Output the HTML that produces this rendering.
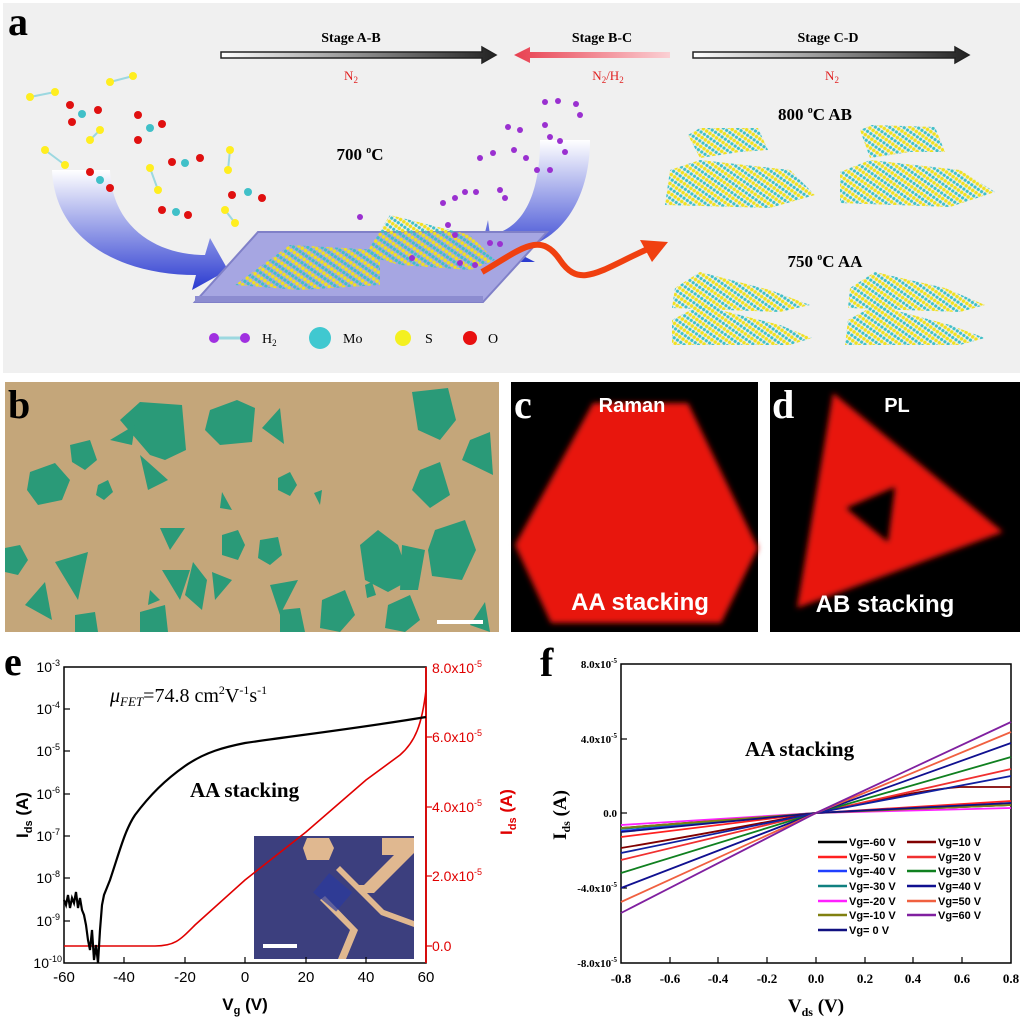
<!DOCTYPE html>
<html><head><meta charset="utf-8"><style>
html,body{margin:0;padding:0;background:#fff;width:1024px;height:1024px;overflow:hidden}
svg{display:block}
.sf{font-family:"Liberation Serif",serif}
.ss{font-family:"Liberation Sans",sans-serif}
</style></head><body>
<svg width="1024" height="1024" viewBox="0 0 1024 1024" xmlns="http://www.w3.org/2000/svg">
<defs>
<linearGradient id="gar" x1="0" x2="1"><stop offset="0" stop-color="#fff"/><stop offset="1" stop-color="#222"/></linearGradient>
<linearGradient id="gpk" x1="0" x2="1"><stop offset="0" stop-color="#e84050"/><stop offset="1" stop-color="#fbd0d4"/></linearGradient>
<linearGradient id="gbl" x1="0" y1="0" x2="0" y2="1"><stop offset="0" stop-color="#fff"/><stop offset="1" stop-color="#2a3ad0"/></linearGradient>
<pattern id="mos" width="8" height="8" patternUnits="userSpaceOnUse" patternTransform="rotate(-55)">
<rect width="8" height="8" fill="none"/><circle cx="2" cy="2" r="1.8" fill="#f0e020"/><circle cx="6" cy="2" r="1.6" fill="#40c0c8"/><circle cx="2" cy="6" r="1.8" fill="#f0e020"/><circle cx="6" cy="6" r="1.6" fill="#40c0c8"/>
</pattern>
<filter id="glow" x="-10%" y="-10%" width="120%" height="120%"><feGaussianBlur stdDeviation="3"/></filter>
</defs>

<!-- Panel a -->
<rect x="3" y="3" width="1017" height="370" fill="#f0f0f0"/>
<text x="8" y="35" class="sf" font-size="40" font-weight="bold">a</text>
<text x="351" y="42" class="sf" font-size="14" font-weight="bold" text-anchor="middle">Stage A-B</text>
<text x="602" y="42" class="sf" font-size="14" font-weight="bold" text-anchor="middle">Stage B-C</text>
<text x="828" y="42" class="sf" font-size="14" font-weight="bold" text-anchor="middle">Stage C-D</text>
<path d="M221 52 H482 V47 L496 55 L482 63 V58 H221 Z" fill="url(#gar)" stroke="#222" stroke-width="1.5"/>
<path d="M670 52 H530 V47 L514 55 L530 63 V58 H670 Z" fill="url(#gpk)"/>
<path d="M693 52 H955 V47 L969 55 L955 63 V58 H693 Z" fill="url(#gar)" stroke="#222" stroke-width="1.5"/>
<text x="351" y="80" class="sf" font-size="13" fill="#e02020" text-anchor="middle">N<tspan font-size="9" dy="3">2</tspan></text>
<text x="608" y="80" class="sf" font-size="13" fill="#e02020" text-anchor="middle">N<tspan font-size="9" dy="3">2</tspan><tspan dy="-3">/H</tspan><tspan font-size="9" dy="3">2</tspan></text>
<text x="832" y="80" class="sf" font-size="13" fill="#e02020" text-anchor="middle">N<tspan font-size="9" dy="3">2</tspan></text>
<text x="360" y="160" class="sf" font-size="17" font-weight="bold" text-anchor="middle">700 <tspan font-size="10" dy="-7">o</tspan><tspan dy="7">C</tspan></text>
<text x="815" y="120" class="sf" font-size="17" font-weight="bold" text-anchor="middle">800 <tspan font-size="10" dy="-7">o</tspan><tspan dy="7">C AB</tspan></text>
<text x="825" y="267" class="sf" font-size="17" font-weight="bold" text-anchor="middle">750 <tspan font-size="10" dy="-7">o</tspan><tspan dy="7">C AA</tspan></text>
<path d="M52 170 H110 C112 230 160 255 205 255 L210 238 L228 270 L192 290 L196 275 C120 275 55 240 52 170 Z" fill="url(#gbl)"/>
<path d="M590 140 H540 C540 200 520 230 490 235 L488 220 L478 262 L535 262 L512 250 C560 245 590 200 590 140 Z" fill="url(#gbl)"/>
<polygon points="258,232 547,232 483,302 195,302" fill="#a6a6e2" stroke="#8080c8" stroke-width="2"/>
<polygon points="195,302 483,302 483,296 195,296" fill="#8c8cd0"/>
<polygon points="235,285 290,245 380,250 380,285 300,290" fill="url(#mos)"/>
<polygon points="365,255 390,215 470,235 495,260 470,270 400,265" fill="url(#mos)"/>
<path d="M482 272 C520 250 540 230 560 260 C580 290 600 270 650 248" fill="none" stroke="#f04010" stroke-width="6"/>
<polygon points="640,240 668,242 652,262" fill="#f04010"/>
<g stroke="#9cd8e0" stroke-width="2">
<line x1="30" y1="97" x2="55" y2="92"/><line x1="110" y1="82" x2="133" y2="76"/><line x1="100" y1="130" x2="90" y2="140"/><line x1="45" y1="150" x2="65" y2="165"/><line x1="150" y1="168" x2="158" y2="190"/><line x1="230" y1="150" x2="228" y2="170"/><line x1="225" y1="210" x2="235" y2="223"/>
</g>
<g fill="#ffee20"><circle cx="30" cy="97" r="4"/><circle cx="55" cy="92" r="4"/><circle cx="110" cy="82" r="4"/><circle cx="133" cy="76" r="4"/><circle cx="100" cy="130" r="4"/><circle cx="90" cy="140" r="4"/><circle cx="45" cy="150" r="4"/><circle cx="65" cy="165" r="4"/><circle cx="150" cy="168" r="4"/><circle cx="158" cy="190" r="4"/><circle cx="230" cy="150" r="4"/><circle cx="228" cy="170" r="4"/><circle cx="225" cy="210" r="4"/><circle cx="235" cy="223" r="4"/></g>
<g fill="#e01010"><circle cx="70" cy="105" r="4"/><circle cx="98" cy="110" r="4"/><circle cx="72" cy="122" r="4"/><circle cx="138" cy="115" r="4"/><circle cx="162" cy="124" r="4"/><circle cx="138" cy="140" r="4"/><circle cx="90" cy="172" r="4"/><circle cx="110" cy="188" r="4"/><circle cx="172" cy="162" r="4"/><circle cx="200" cy="158" r="4"/><circle cx="232" cy="195" r="4"/><circle cx="262" cy="198" r="4"/><circle cx="162" cy="210" r="4"/><circle cx="188" cy="215" r="4"/></g>
<g fill="#40c0c8"><circle cx="82" cy="114" r="4"/><circle cx="150" cy="128" r="4"/><circle cx="100" cy="180" r="4"/><circle cx="185" cy="163" r="4"/><circle cx="248" cy="192" r="4"/><circle cx="176" cy="212" r="4"/></g>
<g fill="#9a30d0"><circle cx="545" cy="102" r="3"/><circle cx="558" cy="101" r="3"/><circle cx="576" cy="104" r="3"/><circle cx="580" cy="115" r="3"/><circle cx="508" cy="127" r="3"/><circle cx="520" cy="130" r="3"/><circle cx="545" cy="125" r="3"/><circle cx="550" cy="137" r="3"/><circle cx="560" cy="141" r="3"/><circle cx="565" cy="152" r="3"/><circle cx="480" cy="158" r="3"/><circle cx="493" cy="153" r="3"/><circle cx="514" cy="150" r="3"/><circle cx="526" cy="158" r="3"/><circle cx="537" cy="170" r="3"/><circle cx="550" cy="170" r="3"/><circle cx="443" cy="203" r="3"/><circle cx="455" cy="198" r="3"/><circle cx="465" cy="192" r="3"/><circle cx="476" cy="192" r="3"/><circle cx="500" cy="190" r="3"/><circle cx="505" cy="198" r="3"/><circle cx="360" cy="217" r="3"/><circle cx="448" cy="225" r="3"/><circle cx="455" cy="235" r="3"/><circle cx="490" cy="243" r="3"/><circle cx="500" cy="244" r="3"/><circle cx="412" cy="258" r="3"/><circle cx="460" cy="263" r="3"/><circle cx="475" cy="265" r="3"/></g>
<polygon points="688,135 700,128 758,128 768,150 740,152 700,158" fill="url(#mos)"/>
<polygon points="670,170 700,160 790,170 815,195 770,208 665,205" fill="url(#mos)"/>
<polygon points="860,130 872,125 935,127 945,152 910,152 870,158" fill="url(#mos)"/>
<polygon points="840,172 870,160 960,170 995,192 950,207 840,203" fill="url(#mos)"/>
<polygon points="675,288 700,272 770,290 810,305 780,312 672,308" fill="url(#mos)"/>
<polygon points="672,320 700,305 780,325 812,338 790,345 672,345" fill="url(#mos)"/>
<polygon points="850,288 875,272 945,288 985,305 960,312 848,308" fill="url(#mos)"/>
<polygon points="848,320 875,305 950,325 985,338 960,345 845,345" fill="url(#mos)"/>
<line x1="214" y1="338" x2="245" y2="338" stroke="#9cd8e0" stroke-width="3"/>
<circle cx="214" cy="338" r="5" fill="#a030e0"/><circle cx="245" cy="338" r="5" fill="#a030e0"/>
<text x="262" y="343" class="sf" font-size="14">H<tspan font-size="9" dy="3">2</tspan></text>
<circle cx="320" cy="338" r="11" fill="#40c8d0"/><text x="343" y="343" class="sf" font-size="14">Mo</text>
<circle cx="403" cy="338" r="8" fill="#f4f020"/><text x="425" y="343" class="sf" font-size="14">S</text>
<circle cx="470" cy="338" r="7" fill="#e81010"/><text x="488" y="343" class="sf" font-size="14">O</text>

<!-- Panel b -->
<rect x="5" y="382" width="494" height="250" fill="#c4a67a"/>
<g fill="#2a9a78">
<polygon points="120,420 140,402 182,405 186,450 165,460 150,455"/>
<polygon points="210,410 237,400 255,408 252,442 220,445 205,430"/>
<polygon points="110,440 135,425 132,445"/>
<polygon points="70,445 90,440 97,460 85,470 72,462"/>
<polygon points="30,472 55,463 70,480 62,500 38,505 27,490"/>
<polygon points="98,485 108,480 113,492 104,500 96,495"/>
<polygon points="262,428 280,408 284,444"/>
<polygon points="412,392 448,388 456,420 440,440 418,430"/>
<polygon points="470,440 490,432 493,475 462,460"/>
<polygon points="420,470 440,462 450,495 430,508 412,490"/>
<polygon points="435,530 465,520 476,550 462,580 432,576 428,550"/>
<polygon points="278,478 290,472 297,485 290,496 278,490"/>
<polygon points="140,455 168,480 148,490"/>
<polygon points="222,492 232,510 220,508"/>
<polygon points="314,493 322,490 320,505"/>
<polygon points="160,528 185,528 170,550"/>
<polygon points="222,535 238,530 245,545 238,560 222,555"/>
<polygon points="260,540 278,537 282,555 270,565 258,558"/>
<polygon points="55,562 88,552 78,600"/>
<polygon points="25,605 45,582 52,620"/>
<polygon points="5,548 20,545 28,560 18,575 5,572"/>
<polygon points="162,570 190,570 180,600"/>
<polygon points="193,562 207,580 202,610 185,595"/>
<polygon points="212,572 232,580 215,600"/>
<polygon points="360,545 378,530 398,545 410,580 388,592 365,580"/>
<polygon points="402,545 425,550 418,590 400,590"/>
<polygon points="270,585 298,580 280,615"/>
<polygon points="322,600 345,590 355,615 340,632 320,628"/>
<polygon points="388,605 410,595 420,620 405,632 385,628"/>
<polygon points="280,610 300,608 305,632 280,632"/>
<polygon points="140,612 165,605 168,632 140,632"/>
<polygon points="75,615 95,612 98,632 75,632"/>
<polygon points="365,585 372,582 376,595 367,598"/>
<polygon points="150,590 160,600 148,605"/>
<polygon points="470,625 485,602 490,632"/>
</g>
<rect x="437" y="620" width="46" height="4" fill="#fff"/>
<text x="8" y="418" class="sf" font-size="40" font-weight="bold">b</text>

<!-- Panel c -->
<rect x="511" y="382" width="247" height="250" fill="#000"/>
<polygon points="593,403 688,403 758,548 721,623 551,623 515,545" fill="#e8140c" filter="url(#glow)"/>
<text x="514" y="418" class="sf" font-size="40" font-weight="bold" fill="#fff">c</text>
<text x="632" y="412" class="ss" font-size="20" font-weight="bold" fill="#fff" text-anchor="middle">Raman</text>
<text x="640" y="610" class="ss" font-size="24" font-weight="bold" fill="#fff" text-anchor="middle">AA stacking</text>

<!-- Panel d -->
<rect x="770" y="382" width="250" height="250" fill="#000"/>
<path d="M833,393 L1003,532 L797,608 Z M895,487 L846,508 L888,542 Z" fill="#e8140c" fill-rule="evenodd" filter="url(#glow)"/>
<text x="772" y="418" class="sf" font-size="40" font-weight="bold" fill="#fff">d</text>
<text x="897" y="412" class="ss" font-size="20" font-weight="bold" fill="#fff" text-anchor="middle">PL</text>
<text x="885" y="612" class="ss" font-size="24" font-weight="bold" fill="#fff" text-anchor="middle">AB stacking</text>

<!-- Panel e -->
<text x="4" y="675" class="sf" font-size="40" font-weight="bold">e</text>
<g class="ss" font-size="14" text-anchor="end">
<text x="60" y="672">10<tspan font-size="9" dy="-6">-3</tspan></text>
<text x="60" y="714">10<tspan font-size="9" dy="-6">-4</tspan></text>
<text x="60" y="756">10<tspan font-size="9" dy="-6">-5</tspan></text>
<text x="60" y="799">10<tspan font-size="9" dy="-6">-6</tspan></text>
<text x="60" y="841">10<tspan font-size="9" dy="-6">-7</tspan></text>
<text x="60" y="883">10<tspan font-size="9" dy="-6">-8</tspan></text>
<text x="60" y="926">10<tspan font-size="9" dy="-6">-9</tspan></text>
<text x="62" y="968">10<tspan font-size="9" dy="-6">-10</tspan></text>
</g>
<g fill="#e00000" class="ss" font-size="14">
<text x="432" y="673">8.0x10<tspan font-size="9" dy="-6">-5</tspan></text>
<text x="432" y="742">6.0x10<tspan font-size="9" dy="-6">-5</tspan></text>
<text x="432" y="812">4.0x10<tspan font-size="9" dy="-6">-5</tspan></text>
<text x="432" y="881">2.0x10<tspan font-size="9" dy="-6">-5</tspan></text>
<text x="432" y="951">0.0</text>
</g>
<g class="ss" font-size="15" text-anchor="middle">
<text x="64" y="982">-60</text><text x="124" y="982">-40</text><text x="185" y="982">-20</text><text x="245" y="982">0</text><text x="306" y="982">20</text><text x="366" y="982">40</text><text x="426" y="982">60</text>
</g>
<text x="245" y="1010" class="ss" font-size="17" font-weight="bold" text-anchor="middle">V<tspan font-size="11" dy="4">g</tspan><tspan dy="-4"> (V)</tspan></text>
<text transform="translate(28,815) rotate(-90)" class="ss" font-size="17" font-weight="bold" text-anchor="middle">I<tspan font-size="11" dy="4">ds</tspan><tspan dy="-4"> (A)</tspan></text>
<text transform="translate(512,812) rotate(-90)" class="ss" font-size="17" font-weight="bold" fill="#e00000" text-anchor="middle">I<tspan font-size="11" dy="4">ds</tspan><tspan dy="-4"> (A)</tspan></text>
<rect x="254" y="836" width="160" height="123" fill="#3c3f7e"/>
<path d="M307,838 h22 l5,10 -5,12 h-22 l-4,-12 Z" fill="#e0b890"/>
<path d="M382,838 h32 v15 l-40,40 h-10 l-8,-8 h8 l30,-30 h-12 Z" fill="#e0b890"/>
<path d="M336,870 l45,45 l33,12 v-6 l-30,-11 l-44,-44 Z" fill="#e0b890"/>
<path d="M320,900 l30,30 l-12,29 h8 l12,-29 l-33,-34 Z" fill="#e0b890"/>
<rect x="318" y="880" width="30" height="25" fill="#2a3aa0" opacity="0.7" transform="rotate(40 333 892)"/>
<rect x="263" y="944" width="34" height="4" fill="#fff"/>
<rect x="64" y="667" width="362" height="296" fill="none" stroke="#000" stroke-width="1.5"/>
<line x1="426" y1="667" x2="426" y2="963" stroke="#e00000" stroke-width="1.8"/>
<g stroke="#000" stroke-width="1.2">
<line x1="64" y1="709" x2="70" y2="709"/><line x1="64" y1="751" x2="70" y2="751"/><line x1="64" y1="794" x2="70" y2="794"/><line x1="64" y1="836" x2="70" y2="836"/><line x1="64" y1="878" x2="70" y2="878"/><line x1="64" y1="921" x2="70" y2="921"/>
<line x1="124" y1="963" x2="124" y2="957"/><line x1="185" y1="963" x2="185" y2="957"/><line x1="245" y1="963" x2="245" y2="957"/><line x1="306" y1="963" x2="306" y2="957"/><line x1="366" y1="963" x2="366" y2="957"/>
</g>
<g stroke="#e00000" stroke-width="1.2"><line x1="426" y1="737" x2="432" y2="737"/><line x1="426" y1="807" x2="432" y2="807"/><line x1="426" y1="876" x2="432" y2="876"/><line x1="426" y1="946" x2="432" y2="946"/></g>
<path d="M64,946 L155,946 C175,946 180,940 195,925 L245,880 L306,832 L366,780 L400,755 C415,742 422,725 426,690" fill="none" stroke="#e00000" stroke-width="1.6"/>
<path d="M64,900 L66,905 L68,895 L70,908 L72,898 L74,903 L76,892 L78,908 L80,898 L82,910 L84,915 L86,925 L88,940 L90,950 L92,930 L94,960 L96,945 L98,963 L100,930 L102,905 L104,895 L110,880 C120,850 125,830 135,815 C150,795 165,780 185,766 C205,752 225,747 245,743 C300,735 360,728 426,717" fill="none" stroke="#000" stroke-width="2.2"/>
<text x="110" y="702" class="sf" font-size="20"><tspan font-style="italic">μ<tspan font-size="13" dy="4">FET</tspan></tspan><tspan dy="-4">=74.8 cm</tspan><tspan font-size="12" dy="-8">2</tspan><tspan dy="8">V</tspan><tspan font-size="12" dy="-8">-1</tspan><tspan dy="8">s</tspan><tspan font-size="12" dy="-8">-1</tspan></text>
<text x="190" y="797" class="sf" font-size="21" font-weight="bold">AA stacking</text>

<!-- Panel f -->
<text x="540" y="676" class="sf" font-size="40" font-weight="bold">f</text>
<rect x="621" y="664" width="390" height="299" fill="none" stroke="#000" stroke-width="1.5"/>
<g class="sf" font-size="11" font-weight="bold" text-anchor="end">
<text x="617" y="668">8.0x10<tspan font-size="7" dy="-5">-5</tspan></text>
<text x="617" y="743">4.0x10<tspan font-size="7" dy="-5">-5</tspan></text>
<text x="617" y="817">0.0</text>
<text x="617" y="892">-4.0x10<tspan font-size="7" dy="-5">-5</tspan></text>
<text x="617" y="967">-8.0x10<tspan font-size="7" dy="-5">-5</tspan></text>
</g>
<g class="sf" font-size="13" font-weight="bold" text-anchor="middle">
<text x="621" y="983">-0.8</text><text x="670" y="983">-0.6</text><text x="718" y="983">-0.4</text><text x="767" y="983">-0.2</text><text x="816" y="983">0.0</text><text x="865" y="983">0.2</text><text x="913" y="983">0.4</text><text x="962" y="983">0.6</text><text x="1011" y="983">0.8</text>
</g>
<g stroke="#000" stroke-width="1.2">
<line x1="670" y1="963" x2="670" y2="957"/><line x1="718" y1="963" x2="718" y2="957"/><line x1="767" y1="963" x2="767" y2="957"/><line x1="816" y1="963" x2="816" y2="957"/><line x1="865" y1="963" x2="865" y2="957"/><line x1="913" y1="963" x2="913" y2="957"/><line x1="962" y1="963" x2="962" y2="957"/>
<line x1="621" y1="739" x2="627" y2="739"/><line x1="621" y1="813" x2="627" y2="813"/><line x1="621" y1="888" x2="627" y2="888"/>
</g>
<text x="816" y="1012" class="sf" font-size="19" font-weight="bold" text-anchor="middle">V<tspan font-size="12" dy="4">ds</tspan><tspan dy="-4"> (V)</tspan></text>
<text transform="translate(566,815) rotate(-90)" class="sf" font-size="19" font-weight="bold" text-anchor="middle">I<tspan font-size="12" dy="4">ds</tspan><tspan dy="-4"> (A)</tspan></text>
<text x="745" y="756" class="sf" font-size="21" font-weight="bold">AA stacking</text>
<g fill="none" stroke-width="1.8" stroke-linejoin="round">
<path d="M621,828 L816,813 L1011,805" stroke="#000"/>
<path d="M621,837 L816,813 L1011,801" stroke="#ff2020"/>
<path d="M621,831 L816,813 L1011,803" stroke="#2040ff"/>
<path d="M621,829 L816,813 L1011,805" stroke="#108080"/>
<path d="M621,825 L816,813 L1011,808" stroke="#ff20ff"/>
<path d="M621,828 L816,813 L1011,805" stroke="#808010"/>
<path d="M621,832 L816,813 L1011,803" stroke="#101080"/>
<path d="M621,848 C700,835 760,823 816,813 C880,800 920,790 960,787 L1011,787" stroke="#800000"/>
<path d="M621,860 L816,813 L1011,769" stroke="#f03030"/>
<path d="M621,873 L816,813 L1011,757" stroke="#108020"/>
<path d="M621,888 L816,813 L1011,743" stroke="#101090"/>
<path d="M621,853 L816,813 L1011,776" stroke="#1020a0"/>
<path d="M621,902 L816,813 L1011,732" stroke="#f06040"/>
<path d="M621,913 L816,813 L1011,722" stroke="#8020a0"/>
</g>
<g class="ss" font-size="11" font-weight="bold" stroke-width="2.5">
<line x1="818" y1="842" x2="847" y2="842" stroke="#000"/><text x="849" y="846">Vg=-60 V</text>
<line x1="818" y1="857" x2="847" y2="857" stroke="#ff2020"/><text x="849" y="861">Vg=-50 V</text>
<line x1="818" y1="871" x2="847" y2="871" stroke="#2040ff"/><text x="849" y="875">Vg=-40 V</text>
<line x1="818" y1="886" x2="847" y2="886" stroke="#108080"/><text x="849" y="890">Vg=-30 V</text>
<line x1="818" y1="901" x2="847" y2="901" stroke="#ff20ff"/><text x="849" y="905">Vg=-20 V</text>
<line x1="818" y1="915" x2="847" y2="915" stroke="#808010"/><text x="849" y="919">Vg=-10 V</text>
<line x1="818" y1="930" x2="847" y2="930" stroke="#101080"/><text x="849" y="934">Vg=  0 V</text>
<line x1="907" y1="842" x2="936" y2="842" stroke="#800000"/><text x="938" y="846">Vg=10 V</text>
<line x1="907" y1="857" x2="936" y2="857" stroke="#f03030"/><text x="938" y="861">Vg=20 V</text>
<line x1="907" y1="871" x2="936" y2="871" stroke="#108020"/><text x="938" y="875">Vg=30 V</text>
<line x1="907" y1="886" x2="936" y2="886" stroke="#101090"/><text x="938" y="890">Vg=40 V</text>
<line x1="907" y1="901" x2="936" y2="901" stroke="#f06040"/><text x="938" y="905">Vg=50 V</text>
<line x1="907" y1="915" x2="936" y2="915" stroke="#8020a0"/><text x="938" y="919">Vg=60 V</text>
</g>
</svg>
</body></html>
